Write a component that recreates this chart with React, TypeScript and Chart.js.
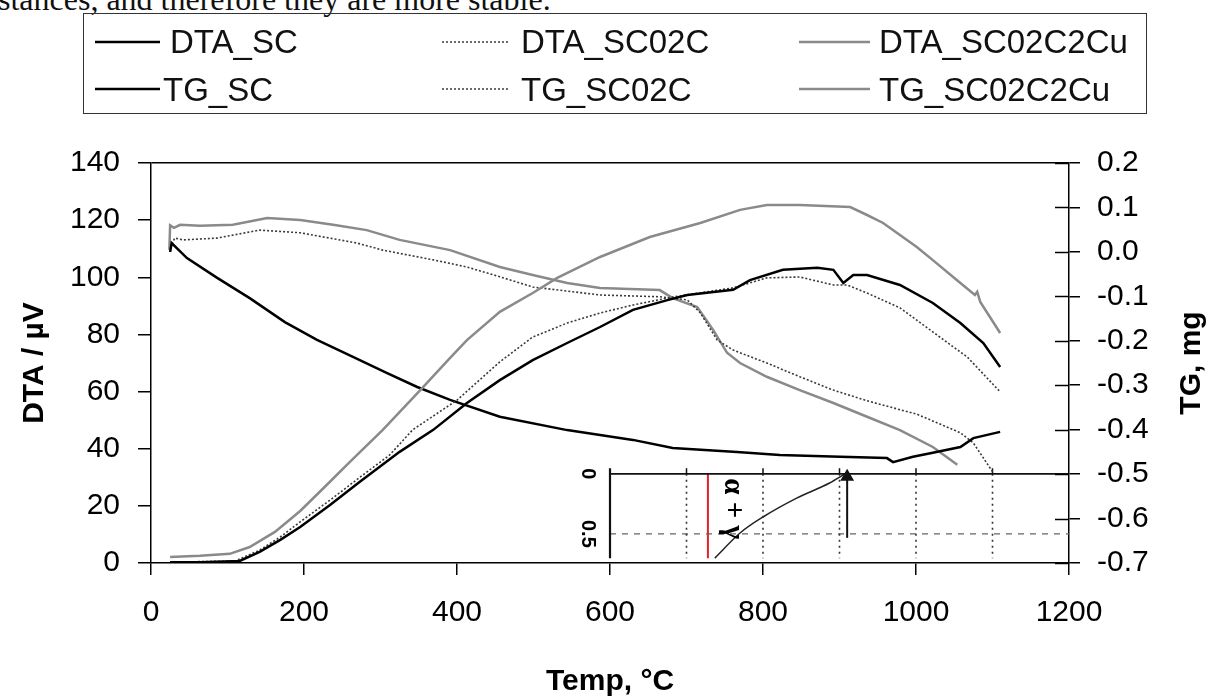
import React, { useEffect, useRef } from 'react';
import { Chart, registerables } from 'chart.js';
Chart.register(...registerables);

// ---------- axes ----------
const X_MIN = 0, X_MAX = 1200, X_STEP = 200;
const DTA_MIN = 0, DTA_MAX = 140, DTA_STEP = 20;
const TG_MIN = -0.7, TG_MAX = 0.2, TG_STEP = 0.1;

// ---------- series (temperature °C, value) ----------
const DTA_SC: [number, number][] = [[25,0.3],[64,0.3],[116,0.7],[142,3.9],[169,8.1],[195,12.6],[234,20.3],[273,28.4],[325,38.9],[369,46.6],[413,56],[456,64],[499,71],[544,77],[587,82.6],[630,88.6],[675,92],[701,93.8],[761,95.6],[783,99],[826,102.6],[871,103.3],[892,102.6],[905,98],[918,100.8],[936,100.8],[979,97.3],[1022,91],[1058,84],[1088,77],[1110,68.6]];
const DTA_SC02C: [number, number][] = [[25,0.3],[110,0.7],[142,4.5],[169,9.1],[195,14.4],[234,22],[273,30],[312,37.8],[342,46.6],[400,57],[456,70.4],[499,79.1],[544,84],[587,87.5],[630,90.3],[682,93.1],[761,96.3],[805,99.8],[848,100.1],[892,97.3],[910,97.3],[936,94.5],[979,89.3],[1001,85],[1031,79.1],[1067,72.1],[1110,59.9]];
const DTA_SC02C2Cu: [number, number][] = [[25,2.1],[64,2.5],[103,3.2],[129,5.6],[162,10.9],[195,18.2],[227,26.6],[260,35.4],[303,46.6],[352,60.5],[391,71.8],[413,78],[456,87.9],[499,94.5],[531,99.8],[587,107.1],[652,114.1],[718,119],[770,123.6],[805,125.3],[848,125.3],[914,124.6],[936,121.8],[957,119],[1001,110.6],[1022,106],[1058,98],[1077,93.8],[1080,94.9],[1084,91.4],[1110,80.5]];
const TG_SC: [number, number][] = [[25,0.0],[27,0.02],[47,-0.014],[86,-0.058],[129,-0.104],[175,-0.158],[217,-0.198],[264,-0.236],[308,-0.272],[348,-0.304],[391,-0.333],[456,-0.371],[544,-0.401],[630,-0.423],[682,-0.441],[766,-0.45],[822,-0.457],[901,-0.461],[962,-0.464],[970,-0.473],[996,-0.461],[1022,-0.452],[1058,-0.439],[1075,-0.419],[1110,-0.405]];
const TG_SC02C: [number, number][] = [[25,0.0],[27,0.016],[31,0.031],[42,0.027],[86,0.031],[142,0.049],[195,0.043],[269,0.02],[303,0.004],[369,-0.018],[413,-0.034],[456,-0.056],[499,-0.079],[587,-0.097],[665,-0.101],[701,-0.108],[718,-0.137],[740,-0.198],[761,-0.221],[805,-0.25],[848,-0.281],[892,-0.311],[936,-0.335],[979,-0.355],[1001,-0.365],[1058,-0.407],[1075,-0.43],[1101,-0.497]];
const TG_SC02C2Cu: [number, number][] = [[24,0.005],[25,0.06],[30,0.054],[38,0.061],[64,0.059],[107,0.061],[152,0.076],[195,0.072],[238,0.061],[282,0.049],[325,0.027],[391,0.004],[456,-0.034],[499,-0.052],[544,-0.07],[587,-0.081],[665,-0.086],[682,-0.104],[714,-0.124],[735,-0.176],[753,-0.227],[770,-0.25],[805,-0.281],[848,-0.311],[892,-0.34],[936,-0.371],[979,-0.401],[1022,-0.439],[1054,-0.479]];

// ---------- pasted inset fragment (in chart coordinates: °C, DTA) ----------
const INSET_X0 = 600, INSET_X1 = 1200;
const INSET_TOP = 31.2, INSET_BOTTOM = 1.7, INSET_TICK_TOP = 33.2, INSET_DASH_Y = 10.2;
const INSET_GRID_X = [700, 800, 900, 1000, 1100];
const INSET_RED_X = 728;
const INSET_CURVE: [number, number][] = [[737,1.7],[770,10.5],[800,16.1],[844,22.7],[887,28],[906,31]];
const INSET_ARROW: [number, number][] = [[910,8.8],[910,30.2]];

const BLACK = '#000';
const GRAY = '#8a8a8a';
const DOT = '#3a3a3a';

type Style = { color: string; width: number; dash: number[] };
const SERIES: { label: string; data: [number, number][]; axis: string; style: Style }[] = [
  { label: 'DTA_SC', data: DTA_SC, axis: 'y', style: { color: BLACK, width: 2.5, dash: [] } },
  { label: 'DTA_SC02C', data: DTA_SC02C, axis: 'y', style: { color: DOT, width: 1.6, dash: [2, 2] } },
  { label: 'DTA_SC02C2Cu', data: DTA_SC02C2Cu, axis: 'y', style: { color: GRAY, width: 2.5, dash: [] } },
  { label: 'TG_SC', data: TG_SC, axis: 'y2', style: { color: BLACK, width: 2.5, dash: [] } },
  { label: 'TG_SC02C', data: TG_SC02C, axis: 'y2', style: { color: DOT, width: 1.6, dash: [2, 2] } },
  { label: 'TG_SC02C2Cu', data: TG_SC02C2Cu, axis: 'y2', style: { color: GRAY, width: 2.5, dash: [] } },
];

const pts = (a: [number, number][]) => a.map(([x, y]) => ({ x, y }));
const segs = (xs: number[], y0: number, y1: number) => {
  const out: { x: number; y: number | null }[] = [];
  xs.forEach((x) => { out.push({ x, y: y0 }, { x, y: y1 }, { x, y: null }); });
  return out;
};

const FONT = "'Liberation Sans', Arial, sans-serif";

const annotPlugin = {
  id: 'annot',
  afterDraw(chart: any) {
    const { ctx, chartArea, scales } = chart;
    const y2 = scales.y2, xs = scales.x, y = scales.y;
    ctx.save();
    // inner halves of the crossing ticks on the right axis
    ctx.strokeStyle = '#000';
    ctx.lineWidth = 1.5;
    y2.ticks.forEach((t: any) => {
      const py = Math.round(y2.getPixelForValue(t.value)) + 0.5;
      ctx.beginPath();
      ctx.moveTo(chartArea.right - 14, py);
      ctx.lineTo(chartArea.right, py);
      ctx.stroke();
    });
    // right axis title, reading bottom-to-top
    ctx.fillStyle = '#000';
    ctx.font = `bold 30px ${FONT}`;
    ctx.textAlign = 'center';
    ctx.textBaseline = 'middle';
    ctx.save();
    ctx.translate(y2.right - 18, (chartArea.top + chartArea.bottom) / 2);
    ctx.rotate(-Math.PI / 2);
    ctx.fillText('TG, mg', 0, 0);
    ctx.restore();
    // inset labels
    const rot = (txt: string, px: number, py: number, font: string) => {
      ctx.save();
      ctx.font = font;
      ctx.translate(px, py);
      ctx.rotate(Math.PI / 2);
      ctx.fillText(txt, 0, 0);
      ctx.restore();
    };
    rot('α + γ', xs.getPixelForValue(760), y.getPixelForValue(19.0), "bold 29px 'Liberation Serif', serif");
    rot('0', xs.getPixelForValue(571), y.getPixelForValue(INSET_TOP), "bold 20px 'Liberation Sans', sans-serif");
    rot('0.5', xs.getPixelForValue(571), y.getPixelForValue(INSET_DASH_Y), "bold 20px 'Liberation Sans', sans-serif");
    ctx.restore();
  },
};

const LEG_LINE_X = [[95, 160], [442, 510], [799, 870]];
const LEG_TEXT_X = [[170, 521, 879], [163, 521, 879]];
const LEG_LINE_Y = [42, 89];
const LEG_TEXT_TOP = [25, 73];

export default function App() {
  const ref = useRef<HTMLCanvasElement>(null);
  useEffect(() => {
    const datasets: any[] = SERIES.map((s) => ({
      label: s.label,
      data: pts(s.data),
      yAxisID: s.axis,
      borderColor: s.style.color,
      borderWidth: s.style.width,
      borderDash: s.style.dash,
      pointRadius: 0,
      tension: 0,
    }));
    const inset = (data: any[], color: string, width: number, dash: number[] = [], extra: any = {}) => ({
      label: '', data, yAxisID: 'y', borderColor: color, borderWidth: width, borderDash: dash,
      pointRadius: 0, tension: 0, spanGaps: false, ...extra,
    });
    datasets.push(
      inset([{ x: INSET_X0, y: INSET_TOP }, { x: INSET_X1, y: INSET_TOP }], '#111', 1.8),
      inset([{ x: INSET_X0, y: INSET_TICK_TOP }, { x: INSET_X0, y: INSET_BOTTOM }], '#111', 2.2),
      inset(segs(INSET_GRID_X, INSET_TOP, INSET_TICK_TOP), '#111', 1.5),
      inset(segs(INSET_GRID_X, INSET_TOP, INSET_BOTTOM), '#333', 1.6, [2, 4]),
      inset([{ x: INSET_X0, y: INSET_DASH_Y }, { x: INSET_X1, y: INSET_DASH_Y }], '#666', 1.2, [6, 6]),
      inset([{ x: INSET_RED_X, y: INSET_TOP }, { x: INSET_RED_X, y: INSET_BOTTOM }], '#e8202a', 2),
      inset(pts(INSET_CURVE), '#222', 1.5, [], { cubicInterpolationMode: 'monotone' }),
      inset(pts(INSET_ARROW), '#111', 2, [], {
        pointRadius: [0, 6], pointStyle: 'triangle', pointBackgroundColor: '#111', pointBorderColor: '#111',
      }),
    );
    const tickFont = { family: FONT, size: 30 };
    const chart = new Chart(ref.current as HTMLCanvasElement, {
      type: 'line',
      data: { datasets },
      options: {
        animation: false,
        responsive: false,
        layout: { padding: { top: 163, left: 0, right: 0, bottom: 0 } },
        plugins: { legend: { display: false }, tooltip: { enabled: false } },
        scales: {
          x: {
            type: 'linear', position: 'bottom', min: X_MIN, max: X_MAX,
            ticks: { stepSize: X_STEP, font: tickFont, color: '#000', padding: 20, callback: (v: any) => String(v), maxRotation: 0 },
            grid: { drawOnChartArea: false, drawTicks: true, tickLength: 12, color: '#000', lineWidth: 1.5 },
            border: { display: true, color: '#000', width: 1.5 },
            title: { display: true, text: 'Temp, °C', color: '#000', font: { family: FONT, size: 30, weight: 'bold' }, padding: { top: 0, bottom: 0 } },
            afterFit: (s: any) => { s.height = 137; },
          },
          y: {
            type: 'linear', position: 'left', min: DTA_MIN, max: DTA_MAX,
            ticks: { stepSize: DTA_STEP, font: tickFont, color: '#000', padding: 18, callback: (v: any) => String(v) },
            grid: {
              drawOnChartArea: true, drawTicks: true, tickLength: 13, lineWidth: 1.5,
              color: (c: any) => (c.tick && c.tick.value === DTA_MAX ? '#000' : 'rgba(0,0,0,0)'),
              tickColor: '#000',
            },
            border: { display: true, color: '#000', width: 1.5 },
            title: { display: true, text: 'DTA / µV', color: '#000', font: { family: FONT, size: 30, weight: 'bold' }, padding: { top: 17, bottom: 0 } },
            afterFit: (s: any) => { s.width = 151; },
          },
          y2: {
            type: 'linear', position: 'right', min: TG_MIN, max: TG_MAX,
            ticks: {
              stepSize: TG_STEP, font: tickFont, color: '#000', padding: 17,
              callback: (v: any) => (Math.abs(v) < 1e-9 ? '0.0' : Number(v).toFixed(1)),
            },
            grid: { drawOnChartArea: false, drawTicks: true, tickLength: 11, color: '#000', lineWidth: 1.5 },
            border: { display: true, color: '#000', width: 1.5 },
            title: { display: false },
            afterFit: (s: any) => { s.width = 141; },
          },
        },
      } as any,
      plugins: [annotPlugin],
    });
    return () => chart.destroy();
  }, []);

  return (
    <div style={{ position: 'absolute', left: 0, top: 0, width: 1210, height: 700, overflow: 'hidden', background: '#fff' }}>
      <div style={{ position: 'absolute', left: -2, top: -17, whiteSpace: 'nowrap', font: "32px/32px 'Liberation Serif', 'Times New Roman', serif", color: '#111' }}>
        stances, and therefore they are more stable.
      </div>
      <canvas ref={ref} width={1210} height={700} style={{ position: 'absolute', left: 0, top: 0 }} />
      <div style={{ position: 'absolute', left: 83, top: 13, width: 1064, height: 101, border: '1.5px solid #333', boxSizing: 'border-box' }} />
      <svg width={1210} height={120} style={{ position: 'absolute', left: 0, top: 0 }}>
        {[0, 1].map((r) =>
          [0, 1, 2].map((c) => {
            const s = SERIES[r * 3 + c].style;
            return (
              <line key={`${r}-${c}`} x1={LEG_LINE_X[c][0]} x2={LEG_LINE_X[c][1]} y1={LEG_LINE_Y[r]} y2={LEG_LINE_Y[r]}
                stroke={s.color} strokeWidth={s.width} strokeDasharray={s.dash.length ? s.dash.join(' ') : undefined} />
            );
          })
        )}
      </svg>
      {[0, 1].map((r) =>
        [0, 1, 2].map((c) => (
          <div key={`t${r}-${c}`} style={{ position: 'absolute', left: LEG_TEXT_X[r][c], top: LEG_TEXT_TOP[r], whiteSpace: 'nowrap', font: `33px/33px ${FONT}`, color: '#111' }}>
            {SERIES[r * 3 + c].label}
          </div>
        ))
      )}
    </div>
  );
}
